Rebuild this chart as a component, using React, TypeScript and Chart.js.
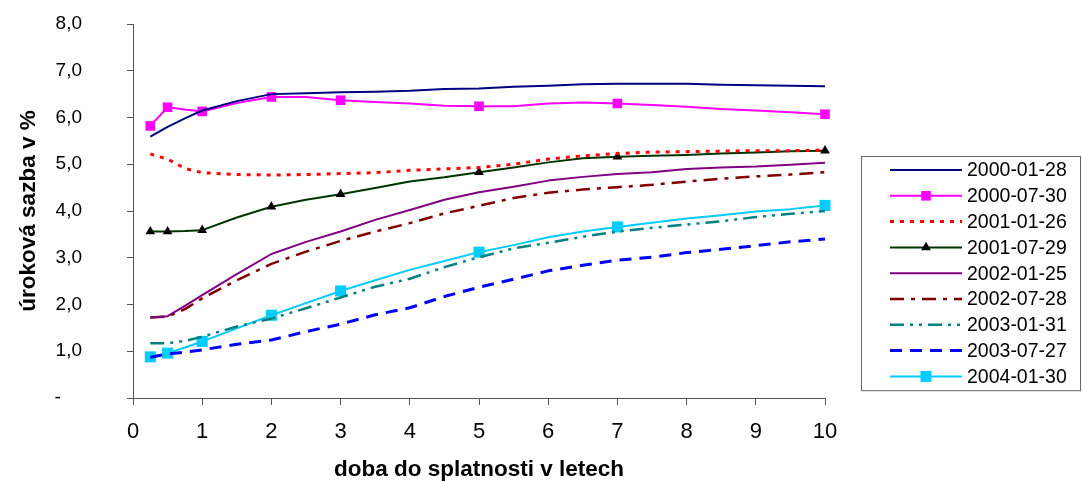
import React, { useEffect, useRef } from 'react';
import { Chart, registerables } from 'chart.js';

Chart.register(...registerables);

const FONT_FAMILY = "'Liberation Sans', Arial, Helvetica, sans-serif";

// maturities (years) at which the curves are sampled
const MATURITIES = [0.25, 0.5, 0.75, 1, 1.5, 2, 2.5, 3, 3.5, 4, 4.5, 5, 5.5, 6, 6.5, 7, 7.5, 8, 8.5, 9, 9.5, 10];
// maturities at which markers are shown
const MARKER_MATURITIES = [0.25, 0.5, 1, 2, 3, 5, 7, 10];

const SERIES_LABELS = [
  '2000-01-28',
  '2000-07-30',
  '2001-01-26',
  '2001-07-29',
  '2002-01-25',
  '2002-07-28',
  '2003-01-31',
  '2003-07-27',
  '2004-01-30',
];

const S_2000_01_28 = [5.59, 5.8, 5.98, 6.15, 6.35, 6.5, 6.52, 6.54, 6.55, 6.57, 6.61, 6.62, 6.66, 6.68, 6.71, 6.72, 6.72, 6.72, 6.7, 6.69, 6.68, 6.67];
const S_2000_07_30 = [5.82, 6.22, 6.17, 6.13, 6.31, 6.44, 6.44, 6.37, 6.33, 6.3, 6.25, 6.24, 6.24, 6.3, 6.32, 6.3, 6.27, 6.23, 6.18, 6.15, 6.11, 6.07];
const S_2001_01_26 = [5.22, 5.11, 4.91, 4.82, 4.78, 4.77, 4.78, 4.8, 4.82, 4.87, 4.9, 4.93, 5.0, 5.11, 5.18, 5.23, 5.26, 5.27, 5.28, 5.29, 5.29, 5.3];
const S_2001_07_29 = [3.56, 3.56, 3.57, 3.59, 3.86, 4.09, 4.24, 4.36, 4.49, 4.63, 4.72, 4.83, 4.93, 5.04, 5.13, 5.16, 5.18, 5.2, 5.23, 5.25, 5.28, 5.29];
const S_2002_01_25 = [1.72, 1.75, 1.97, 2.2, 2.65, 3.08, 3.34, 3.56, 3.81, 4.02, 4.24, 4.4, 4.52, 4.65, 4.73, 4.79, 4.83, 4.9, 4.93, 4.95, 4.99, 5.03];
const S_2002_07_28 = [1.72, 1.74, 1.9, 2.13, 2.52, 2.87, 3.13, 3.36, 3.56, 3.74, 3.95, 4.11, 4.28, 4.39, 4.46, 4.51, 4.56, 4.63, 4.69, 4.74, 4.78, 4.83];
const S_2003_01_31 = [1.17, 1.17, 1.22, 1.31, 1.53, 1.7, 1.92, 2.15, 2.38, 2.55, 2.8, 3.01, 3.2, 3.32, 3.45, 3.56, 3.64, 3.71, 3.78, 3.87, 3.94, 4.0];
const S_2003_07_27 = [0.87, 0.94, 0.98, 1.03, 1.15, 1.24, 1.42, 1.58, 1.78, 1.93, 2.17, 2.37, 2.54, 2.72, 2.84, 2.95, 3.01, 3.11, 3.18, 3.26, 3.34, 3.4];
const S_2004_01_30 = [0.88, 0.96, 1.08, 1.21, 1.49, 1.77, 2.03, 2.29, 2.52, 2.74, 2.93, 3.12, 3.27, 3.44, 3.56, 3.66, 3.75, 3.84, 3.91, 3.99, 4.04, 4.12];

const SERIES_VALUES = [
  S_2000_01_28,
  S_2000_07_30,
  S_2001_01_26,
  S_2001_07_29,
  S_2002_01_25,
  S_2002_07_28,
  S_2003_01_31,
  S_2003_07_27,
  S_2004_01_30,
];

const X_TITLE = 'doba do splatnosti v letech';
const Y_TITLE = 'úroková sazba v %';
const Y_MIN = 0;
const Y_MAX = 8;
const X_MIN = 0;
const X_MAX = 10;

type SeriesStyle = {
  color: string;
  width: number;
  dash: number[];
  marker?: 'rect' | 'triangle';
  markerColor?: string;
  radius?: number;
};

const STYLES: SeriesStyle[] = [
  { color: '#000080', width: 2, dash: [] },
  { color: '#FF00FF', width: 2, dash: [], marker: 'rect', markerColor: '#FF00FF', radius: 6.8 },
  { color: '#FF0000', width: 3, dash: [4, 6] },
  { color: '#003300', width: 2, dash: [], marker: 'triangle', markerColor: '#000000', radius: 5.6 },
  { color: '#800080', width: 2, dash: [] },
  { color: '#800000', width: 2.5, dash: [14, 7, 4, 7] },
  { color: '#008080', width: 2.5, dash: [14, 6, 3, 6, 3, 6] },
  { color: '#0000FF', width: 3, dash: [12, 8] },
  { color: '#00CCFF', width: 2, dash: [], marker: 'rect', markerColor: '#00CCFF', radius: 7.8 },
];

function drawMarker(ctx: CanvasRenderingContext2D, kind: string, x: number, y: number, r: number, color: string) {
  ctx.save();
  ctx.fillStyle = color;
  ctx.beginPath();
  if (kind === 'rect') {
    const s = Math.SQRT1_2 * r;
    ctx.rect(x - s, y - s, 2 * s, 2 * s);
  } else {
    const a = (2 * Math.PI) / 3;
    ctx.moveTo(x, y - r);
    ctx.lineTo(x + Math.sin(a) * r, y - Math.cos(a) * r);
    ctx.lineTo(x + Math.sin(2 * a) * r, y - Math.cos(2 * a) * r);
    ctx.closePath();
  }
  ctx.fill();
  ctx.restore();
}

const boxLegend = {
  id: 'boxLegend',
  afterDraw(chart: any) {
    const ctx: CanvasRenderingContext2D = chart.ctx;
    const area = chart.chartArea;
    const left = area.right + 36;
    const top = 156;
    const rowH = 25.8;
    const n = chart.data.datasets.length;
    ctx.save();
    ctx.strokeStyle = '#666666';
    ctx.lineWidth = 1;
    ctx.setLineDash([]);
    ctx.strokeRect(left + 0.5, top + 0.5, chart.width - left - 2, rowH * n + 2);
    chart.data.datasets.forEach((ds: any, i: number) => {
      const st = STYLES[i];
      const y = top + 14 + i * rowH;
      ctx.save();
      ctx.beginPath();
      ctx.setLineDash(st.dash);
      ctx.lineWidth = st.width;
      ctx.strokeStyle = st.color;
      ctx.moveTo(left + 29, y);
      ctx.lineTo(left + 101, y);
      ctx.stroke();
      ctx.restore();
      if (st.marker) drawMarker(ctx, st.marker, left + 65, y, st.radius || 6, st.markerColor || st.color);
      ctx.fillStyle = '#000000';
      ctx.font = `19.5px ${FONT_FAMILY}`;
      ctx.textBaseline = 'middle';
      ctx.textAlign = 'left';
      ctx.fillText(ds.label, left + 106, y + 1);
    });
    ctx.restore();
  },
};

export default function App() {
  const canvasRef = useRef<HTMLCanvasElement | null>(null);

  useEffect(() => {
    const canvas = canvasRef.current;
    if (!canvas) return;
    Chart.defaults.font.family = FONT_FAMILY;
    Chart.defaults.color = '#000000';

    const datasets = SERIES_LABELS.map((label, i) => {
      const st = STYLES[i];
      const values = SERIES_VALUES[i];
      return {
        label,
        data: MATURITIES.map((t, j) => ({ x: t, y: values[j] })),
        borderColor: st.color,
        backgroundColor: st.color,
        borderWidth: st.width,
        borderDash: st.dash,
        borderCapStyle: 'butt' as const,
        borderJoinStyle: 'round' as const,
        fill: false,
        tension: 0,
        clip: false as const,
        pointStyle: st.marker || 'circle',
        pointRadius: (c: any) =>
          st.marker && c.raw && MARKER_MATURITIES.includes(c.raw.x) ? st.radius : 0,
        pointHoverRadius: (c: any) =>
          st.marker && c.raw && MARKER_MATURITIES.includes(c.raw.x) ? st.radius : 0,
        pointBackgroundColor: st.markerColor || st.color,
        pointBorderColor: st.markerColor || st.color,
        pointBorderWidth: 0,
      };
    });

    const chart = new Chart(canvas, {
      type: 'line',
      data: { datasets },
      options: {
        responsive: false,
        animation: false,
        devicePixelRatio: 1,
        layout: { padding: { top: 24, right: 257, left: 0, bottom: 0 } },
        plugins: {
          legend: { display: false },
          tooltip: { enabled: false },
        },
        scales: {
          x: {
            type: 'linear',
            min: X_MIN,
            max: X_MAX,
            afterFit: (scale: any) => {
              scale.height = 84;
              scale.paddingLeft = 0;
              scale.paddingRight = 0;
            },
            ticks: {
              stepSize: 1,
              padding: 14,
              color: '#000000',
              font: { size: 22 },
              callback: (v: any) => String(v),
            },
            grid: {
              display: true,
              drawOnChartArea: false,
              drawTicks: true,
              tickLength: 7,
              color: '#555555',
              lineWidth: 1,
            },
            border: { display: true, color: '#555555', width: 1 },
            title: {
              display: true,
              text: X_TITLE,
              color: '#000000',
              font: { size: 22.5, weight: 'bold' },
              padding: { top: 0, bottom: -1.5 },
            },
          },
          y: {
            type: 'linear',
            min: Y_MIN,
            max: Y_MAX,
            afterFit: (scale: any) => {
              scale.width = 133;
              scale.paddingTop = 0;
              scale.paddingBottom = 0;
            },
            ticks: {
              stepSize: 1,
              padding: 45,
              color: '#000000',
              font: { size: 19 },
              callback: (v: any) => (Number(v) === 0 ? '-    ' : Number(v).toFixed(1).replace('.', ',')),
            },
            grid: {
              display: true,
              drawOnChartArea: false,
              drawTicks: true,
              tickLength: 6,
              color: '#555555',
              lineWidth: 1,
            },
            border: { display: true, color: '#555555', width: 1 },
            title: {
              display: true,
              text: Y_TITLE,
              color: '#000000',
              font: { size: 22.5, weight: 'bold' },
              padding: { top: 15.5, bottom: 0 },
            },
          },
        },
      } as any,
      plugins: [boxLegend],
    });

    return () => {
      chart.destroy();
    };
  }, []);

  return (
    <div
      style={{
        position: 'fixed',
        left: 0,
        top: 0,
        width: 1082,
        height: 482,
        overflow: 'hidden',
        background: '#ffffff',
      }}
    >
      <canvas ref={canvasRef} width={1082} height={482} style={{ display: 'block' }} />
    </div>
  );
}
